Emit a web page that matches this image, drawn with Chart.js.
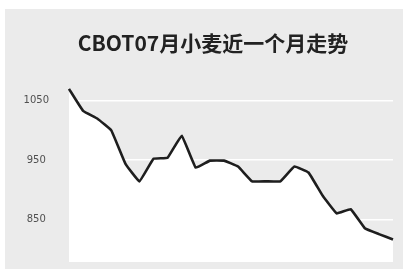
<!DOCTYPE html>
<html>
<head>
<meta charset="utf-8">
<script src="https://cdn.jsdelivr.net/npm/chart.js@4"></script>
<style>
html,body{margin:0;padding:0;background:#ffffff;}
#wrap{position:absolute;left:5px;top:9px;width:398px;height:260px;background:#ebebeb;}
canvas{display:block;}
</style>
</head>
<body>
<div id="wrap"><canvas id="c" width="398" height="260"></canvas></div>
<script>
const titleText = "CBOT07月小麦近一个月走势";
const days = ["1","2","3","4","5","6","7","8","9","10","11","12","13","14","15","16","17","18","19","20","21","22","23","24"];
const prices = [1070,1033,1020,1000,944,914,952,954,991,937,949,949,939,914,914,914,939,929,890,860,867,835,825,816];
const tickValues = [850,950,1050];

const titlePlugin = {
  id: 'titleText',
  afterDraw(chart) {
    const ctx = chart.ctx;
    ctx.save();
    ctx.fillStyle = '#222222';
    ctx.font = "bold 21px 'Noto Sans CJK SC', sans-serif";
    ctx.textAlign = 'center';
    ctx.textBaseline = 'middle';
    ctx.fillText(titleText, 208, 34);
    ctx.restore();
  }
};

new Chart(document.getElementById('c'), {
  type: 'line',
  data: {
    labels: days,
    datasets: [{
      data: prices,
      borderColor: '#1e1e1e',
      borderWidth: 2.6,
      backgroundColor: '#ffffff',
      fill: 'start',
      pointRadius: 0,
      tension: 0.08
    }]
  },
  options: {
    responsive: false,
    animation: false,
    layout: { padding: { left: 0, right: 10, top: 71, bottom: 7 } },
    plugins: {
      legend: { display: false },
      tooltip: { enabled: false },
      title: { display: false }
    },
    scales: {
      x: {
        display: false,
        offset: false
      },
      y: {
        min: 778,
        max: 1085,
        afterBuildTicks: (s) => { s.ticks = tickValues.map(v => ({ value: v })); },
        afterFit: (s) => { s.width = 64; s.paddingTop = 0; s.paddingBottom = 0; },
        border: { display: false },
        grid: { color: '#ffffff', lineWidth: 1.5, drawTicks: false },
        ticks: {
          color: '#505050',
          crossAlign: 'center',
          padding: 20,
          callback: (v) => String(v),
          font: { family: "'DejaVu Sans', sans-serif", size: 10 }
        }
      }
    }
  },
  plugins: [titlePlugin]
});
</script>
</body>
</html>
